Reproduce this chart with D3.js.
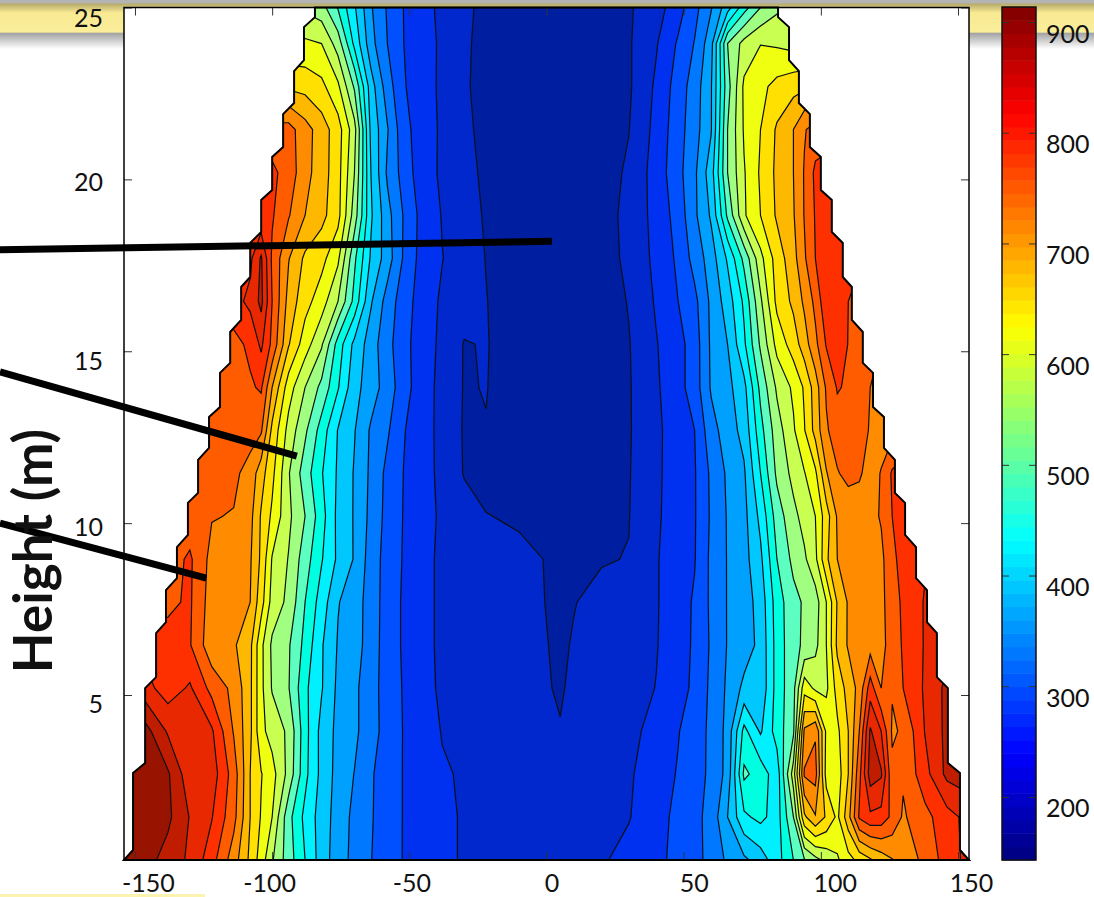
<!DOCTYPE html>
<html>
<head>
<meta charset="utf-8">
<title>Height contour</title>
<script src="https://cdn.jsdelivr.net/npm/d3@7"></script>
<style>
  html, body { margin: 0; padding: 0; background: #fff; }
  svg { display: block; }
  text { font-family: Lato, "Open Sans", sans-serif; fill: #111; }
</style>
</head>
<body>
<div id="diagram"></div>
<script>
// data
const offsets = [-154,-146,-138,-130,-122,-114,-108,-104,-100,-94,-88,-82,-76,-70,-64,-58,-52,-46,-38,-30,-22,-10,5,10,20,30,40,48,54,60,66,72,78,84,90,94,98,102,106,110,114,118,122,126,130,138,146,154];
const heights = [0.2,1.45,2.7,3.95,5.2,6.45,7.7,8.95,10.2,11.45,12.7,13.95,15.2,16.45,17.7,18.95,20.2,21.45,22.7,23.95,25];
const levels = [180,216,253,290,327,363,400,437,473,510,547,583,620,657,693,730,767,803,840,877];
const values = [
  [900,890,863,833,782,710,649,602,551,490,437,382,343,317,291,271,251,240,225,212,207,200,200,203,212,227,245,262,279,301,334,355,381,422,473,507,535,558,578,606,631,652,672,691,707,740,784,815],
  [905,895,885,838,805,742,657,617,583,485,427,383,347,318,293,272,251,240,225,212,205,197,196,199,208,214,240,262,279,303,363,430,447,420,510,650,690,652,612,680,772,795,790,758,725,756,789,815],
  [905,900,882,816,822,750,657,622,597,535,447,389,350,326,294,272,251,243,220,212,204,194,190,192,201,212,233,256,276,297,339,480,458,415,565,735,745,605,600,657,755,858,845,738,735,790,850,860],
  [905,890,835,812,808,727,665,592,569,540,450,388,353,335,304,276,251,238,214,207,197,188,181,186,192,206,228,251,274,297,338,448,395,453,503,700,725,612,612,657,730,845,803,725,735,805,850,860],
  [830,815,785,808,755,720,665,592,544,512,445,403,355,335,304,274,250,232,209,200,190,188,178,184,189,200,217,240,260,298,333,372,372,452,498,605,575,575,635,670,705,785,730,733,767,808,850,860],
  [800,790,780,770,705,698,666,592,540,514,462,404,360,345,308,273,248,230,208,200,190,190,176,182,188,198,214,238,258,295,329,345,373,452,498,517,537,583,665,697,707,715,722,742,772,806,830,840],
  [745,745,760,772,712,705,693,635,569,538,473,420,365,345,310,273,248,230,208,197,190,190,174,179,188,197,213,238,257,297,329,345,378,455,498,515,530,583,660,697,707,714,722,747,775,806,825,835],
  [740,745,750,773,718,725,697,650,580,545,490,440,393,360,310,275,250,230,208,197,190,187,175,172,178,181,213,237,251,298,329,350,392,473,520,541,574,650,693,700,706,712,722,755,785,800,810,815],
  [745,745,745,745,732,728,704,653,613,555,510,452,390,360,317,278,251,232,210,193,181,176,174,173,173,179,210,236,250,295,330,352,410,490,537,560,583,640,697,703,710,720,733,767,790,800,805,810],
  [750,750,750,750,745,738,716,672,630,550,491,440,395,360,320,280,252,232,207,178,170,167,166,166,168,178,209,235,250,297,333,358,437,518,558,581,613,690,727,742,735,715,732,772,790,800,805,810],
  [745,745,745,745,745,745,745,735,648,570,517,457,398,365,322,295,255,234,205,177,179,164,163,163,166,177,208,236,253,313,345,375,460,530,578,618,670,725,750,765,755,725,715,718,720,725,730,735],
  [740,740,740,740,745,755,762,772,693,600,547,500,440,375,345,310,268,235,205,178,181,162,160,160,163,177,211,240,271,331,352,389,483,553,590,625,675,735,770,762,745,730,722,720,720,722,725,728],
  [735,735,735,735,745,755,775,810,758,660,600,552,457,390,345,302,265,236,208,178,182,160,158,158,163,178,214,240,271,333,363,430,516,595,638,676,720,770,785,766,745,735,730,730,730,730,730,730],
  [770,770,770,770,780,790,812,850,767,680,634,600,547,461,367,312,269,240,210,195,181,160,155,155,160,182,220,253,280,335,380,444,540,630,665,700,740,795,780,767,760,760,760,760,760,760,760,760],
  [775,775,775,775,775,785,795,845,760,695,650,632,590,480,395,345,285,243,217,196,179,158,152,154,164,188,225,260,304,345,405,483,572,637,680,725,767,775,770,770,770,770,770,770,770,770,770,770],
  [775,775,775,775,775,775,775,775,771,733,693,668,632,529,405,340,287,245,214,192,177,158,152,155,165,190,228,268,320,368,480,578,620,662,690,732,770,780,780,780,780,780,780,780,780,780,780,780],
  [780,780,780,780,780,780,780,780,775,752,705,675,634,547,400,321,275,235,210,188,175,158,152,155,165,185,232,278,320,383,510,580,625,665,693,733,775,785,785,785,785,785,785,785,785,785,785,785],
  [745,745,745,745,745,745,745,745,745,745,708,675,637,560,391,330,265,237,210,186,172,158,152,154,163,179,227,275,312,360,510,587,620,662,693,727,745,745,745,745,745,745,745,745,745,745,745,745],
  [650,650,650,650,650,650,650,650,650,650,645,630,590,505,380,308,256,234,209,183,172,158,152,155,165,175,222,270,308,360,495,590,610,632,645,650,650,650,650,650,650,650,650,650,650,650,650,650],
  [590,590,590,590,590,590,590,590,590,590,590,583,530,428,340,290,253,233,210,184,172,160,155,157,167,176,213,258,292,350,510,560,582,578,570,570,570,570,570,570,570,570,570,570,570,570,570,570],
  [540,540,540,540,540,540,540,540,540,540,540,525,470,405,331,286,252,232,207,184,175,165,160,162,170,176,200,238,278,324,384,458,510,540,545,545,545,545,545,545,545,545,545,545,545,545,545,545]
];

// stepped outline of the measured area
const edgeHalfWidth = [84.4,88.4,92,96,100,104,108,111.3,115.3,119,123,127,130.7,134.7,138.7,142.3,146.3,150.7,154];
const edgeTop = [25,24.43,23.15,21.9,20.65,19.4,18.15,16.87,15.56,14.37,13.09,11.84,10.59,9.3,8.05,6.8,5.2,2.73,0.2];
const edgeBottom = [24.72,23.47,22.22,20.94,19.69,18.47,17.16,15.91,14.66,13.38,12.19,10.88,9.66,8.4,7.12,5.52,3.02,0.49,0.2];

const xTicks = [-150,-100,-50,0,50,100,150];
const yTicks = [5,10,15,20,25];
const barTicks = [200,300,400,500,600,700,800,900];
const yTitle = 'Height (m)';

// pointer lines laid over the chart: [offset, height]
const pointerFrom = [[-199.2,17.95],[-199.2,14.4],[-199.2,10]];
const pointerTo = [[2,18.2],[-91,11.95],[-124,8.4]];

// styles
const bandColors = ['#001ea0','#0028cc','#0030f0','#0050ff','#0078ff','#00a0ff','#00c8ff','#00f0ff','#00ffe0','#5cffc0','#a0ff80','#c8ff50','#f0ff10','#ffe000','#ffb800','#ff8c00','#ff5c00','#ff3000','#e82800','#c01c00','#981400'];
const xLabelShift = [13,-3,2,5,10,14,13];
const yLabelShift = [9,4,10,3,11];

!(function () {
  'use strict';

  const canvas = { width: 1094, height: 897 };
  const plot = { left: 124, right: 969, top: 7.5, bottom: 860 };
  const bar = { left: 1002, right: 1036, top: 7, bottom: 860, min: 143, max: 913.6, steps: 64 };

  const svg = d3.select('#diagram').append('svg')
    .attr('width', canvas.width)
    .attr('height', canvas.height);

  // slide banner behind the chart
  const defs = svg.append('defs');
  const grad = defs.append('linearGradient')
    .attr('id', 'banner').attr('x1', 0).attr('x2', 0).attr('y1', 0).attr('y2', 1);
  [[0, '#b4b4b4'], [0.06, '#b4b4b4'], [0.08, '#b7ab6c'], [0.26, '#f8e992'], [0.66, '#fbee9b'], [0.67, '#a0a0a0'], [1, '#ffffff']]
    .forEach(function (s) {
      grad.append('stop').attr('offset', s[0]).attr('stop-color', s[1]);
    });
  svg.append('rect').attr('width', canvas.width).attr('height', 49).attr('fill', 'url(#banner)');
  svg.append('rect').attr('y', 894).attr('width', 205).attr('height', 3).attr('fill', '#fdf3b0');

  // scales
  const x = d3.scaleLinear().domain([-154, 154]).range([plot.left, plot.right]);
  const y = d3.scaleLinear().domain([0.2, 25]).range([plot.bottom, plot.top]);
  const colX = d3.scaleLinear().domain(d3.range(offsets.length)).range(offsets.map(x)).clamp(true);
  const rowY = d3.scaleLinear().domain(d3.range(heights.length)).range(heights.map(y)).clamp(true);

  svg.append('rect')
    .attr('x', plot.left).attr('y', plot.top)
    .attr('width', plot.right - plot.left).attr('height', plot.bottom - plot.top)
    .attr('fill', '#fff');

  // outline
  const outline = [];
  edgeHalfWidth.forEach(function (w, i) {
    outline.push([-w, edgeTop[i]], [-w, edgeBottom[i]]);
  });
  edgeHalfWidth.slice().reverse().forEach(function (w, i, list) {
    const k = list.length - 1 - i;
    outline.push([w, edgeBottom[k]], [w, edgeTop[k]]);
  });
  const edgeLine = d3.line().x(function (d) { return x(d[0]); }).y(function (d) { return y(d[1]); }).curve(d3.curveLinearClosed);

  defs.append('clipPath').attr('id', 'edge').append('path').attr('d', edgeLine(outline));

  // filled contours
  const contours = d3.contours()
    .size([offsets.length, heights.length])
    .thresholds(levels)(values.flat());

  const toPlot = d3.geoPath(d3.geoTransform({
    point: function (cx, cy) {
      this.stream.point(colX(cx - 0.5), rowY(cy - 0.5));
    }
  }));

  const field = svg.append('g').attr('clip-path', 'url(#edge)');
  field.append('path').attr('d', edgeLine(outline)).attr('fill', bandColors[0]);
  field.selectAll('path.band')
    .data(contours)
    .enter()
    .append('path')
    .attr('class', 'band')
    .attr('d', toPlot)
    .attr('fill', function (d, i) { return bandColors[i + 1]; })
    .attr('stroke', '#0a1014')
    .attr('stroke-width', 1.2);

  svg.append('path')
    .attr('d', edgeLine(outline))
    .attr('fill', 'none')
    .attr('stroke', '#000')
    .attr('stroke-width', 2);

  // axes, ticks point inwards on all four sides
  const styleTicks = function (g) {
    g.select('.domain').remove();
    g.selectAll('line').attr('stroke', '#333').attr('stroke-width', 1);
    g.selectAll('text').attr('font-size', 25).attr('fill', '#111').style('font-family', 'Lato');
  };

  // plain hyphen in the labels, as on the original
  const plainLabel = function (d) { return String(d); };

  svg.append('g')
    .attr('transform', 'translate(0,' + plot.bottom + ')')
    .call(d3.axisBottom(x).tickValues(xTicks).tickSize(-8).tickPadding(14).tickFormat(plainLabel))
    .call(styleTicks)
    .selectAll('text')
    .attr('dx', function (d, i) { return xLabelShift[i]; });

  svg.append('g')
    .attr('transform', 'translate(0,' + plot.top + ')')
    .call(d3.axisTop(x).tickValues(xTicks).tickSize(-8).tickFormat(''))
    .call(styleTicks);

  svg.append('g')
    .attr('transform', 'translate(' + plot.left + ',0)')
    .call(d3.axisLeft(y).tickValues(yTicks).tickSize(-8).tickPadding(21))
    .call(styleTicks)
    .selectAll('text')
    .attr('dy', function (d, i) { return yLabelShift[i] + 8; });

  svg.append('g')
    .attr('transform', 'translate(' + plot.right + ',0)')
    .call(d3.axisRight(y).tickValues(yTicks).tickSize(-8).tickFormat(''))
    .call(styleTicks);

  svg.append('rect')
    .attr('x', plot.left).attr('y', plot.top)
    .attr('width', plot.right - plot.left).attr('height', plot.bottom - plot.top)
    .attr('fill', 'none').attr('stroke', '#000').attr('stroke-width', 1.5);

  // colorbar
  const barY = d3.scaleLinear().domain([bar.min, bar.max]).range([bar.bottom, bar.top]);
  const jet = function (t) {
    const c = function (v) { return Math.round(255 * Math.max(0, Math.min(1, v))); };
    return d3.rgb(c(1.5 - Math.abs(4 * t - 3)), c(1.5 - Math.abs(4 * t - 2)), c(1.5 - Math.abs(4 * t - 1))).formatHex();
  };
  const barStep = (bar.max - bar.min) / bar.steps;

  svg.append('g').selectAll('rect')
    .data(d3.range(bar.steps))
    .enter()
    .append('rect')
    .attr('x', bar.left)
    .attr('width', bar.right - bar.left)
    .attr('y', function (d) { return barY(bar.min + (d + 1) * barStep); })
    .attr('height', barY(bar.min) - barY(bar.min + barStep) + 0.5)
    .attr('fill', function (d) { return jet((d + 0.5) / bar.steps); });

  svg.append('g')
    .attr('transform', 'translate(' + bar.left + ',0)')
    .call(d3.axisLeft(barY).tickValues(barTicks).tickSize(-7).tickFormat(''))
    .call(styleTicks);

  svg.append('g')
    .attr('transform', 'translate(' + bar.right + ',0)')
    .call(d3.axisRight(barY).tickValues(barTicks).tickSize(-7).tickPadding(10))
    .call(styleTicks)
    .selectAll('text')
    .attr('dy', 20);

  svg.append('rect')
    .attr('x', bar.left).attr('y', bar.top)
    .attr('width', bar.right - bar.left).attr('height', bar.bottom - bar.top)
    .attr('fill', 'none').attr('stroke', '#111').attr('stroke-width', 1.5);

  // pointers
  svg.append('g').selectAll('line')
    .data(pointerFrom)
    .enter()
    .append('line')
    .attr('x1', function (d) { return x(d[0]); })
    .attr('y1', function (d) { return y(d[1]); })
    .attr('x2', function (d, i) { return x(pointerTo[i][0]); })
    .attr('y2', function (d, i) { return y(pointerTo[i][1]); })
    .attr('stroke', '#000')
    .attr('stroke-width', 7);

  // y title
  svg.append('text')
    .attr('transform', 'translate(52,551) rotate(-90)')
    .attr('text-anchor', 'middle')
    .attr('font-size', 53)
    .attr('font-weight', 700)
    .attr('fill', '#111')
    .text(yTitle);
}());
</script>
</body>
</html>
